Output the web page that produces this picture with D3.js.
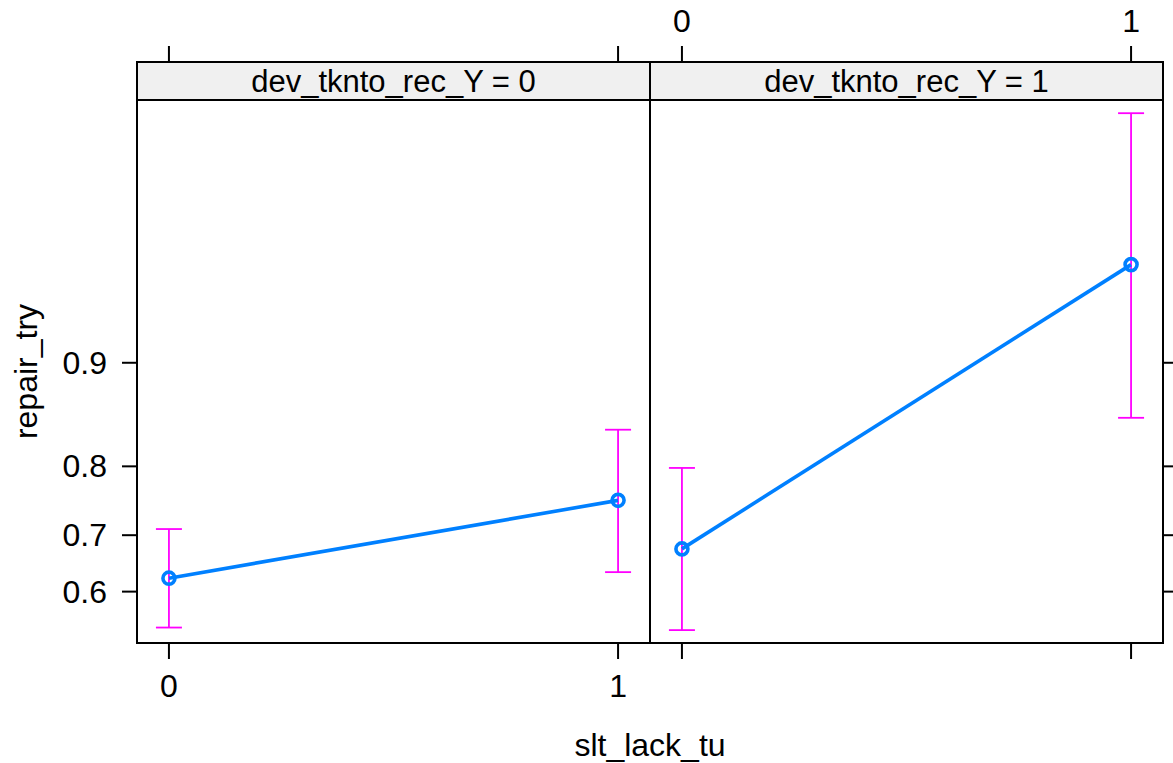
<!DOCTYPE html>
<html>
<head>
<meta charset="utf-8">
<script src="https://cdn.jsdelivr.net/npm/d3@7"></script>
<style>
  body { margin: 0; background: #fff; }
  text { font-family: "Liberation Sans", Arial, sans-serif; fill: #000; }
</style>
</head>
<body>
<div id="chart"></div>
<script>
// effect of slt_lack_tu by dev_tknto_rec_Y (probabilities, logit scale)
var panels = ["dev_tknto_rec_Y = 0", "dev_tknto_rec_Y = 1"];
var xLevels = [0, 1];
var fitVals = [[0.625, 0.754], [0.677, 0.951]];
var lowerVals = [[0.531, 0.636], [0.526, 0.854]];
var upperVals = [[0.710, 0.842], [0.798, 0.9845]];
var yTicks = [0.6, 0.7, 0.8, 0.9];

var W = 1173, H = 763;
var padL = 137, padR = 1163, stripTop = 62, stripH = 38, padB = 643;
var panelW = (padR - padL) / panels.length;
var fs = "32px";

var logit = function (p) { return Math.log(p / (1 - p)); };

var svg = d3.select("#chart").append("svg")
    .attr("width", W)
    .attr("height", H);

var yLin = d3.scaleLinear()
    .domain([logit(0.5008), logit(0.9860)])
    .range([padB, stripTop + stripH]);
var y = function (p) { return yLin(logit(p)); };

var blue = "#0080ff", magenta = "#ff00ff";

panels.forEach(function (name, i) {
    var x0 = padL + i * panelW;
    var x = d3.scaleLinear()
        .domain([-0.0711, 1.0711])
        .range([x0, x0 + panelW]);

    var g = svg.append("g");

    // strip
    g.append("rect")
        .attr("x", x0).attr("y", stripTop)
        .attr("width", panelW).attr("height", stripH)
        .attr("fill", "#f0f0f0").attr("stroke", "#000").attr("stroke-width", 2);
    g.append("text")
        .attr("x", x0 + panelW / 2).attr("y", stripTop + stripH / 2 + 11)
        .attr("text-anchor", "middle")
        .style("font-size", "31px")
        .text(name);

    // panel box
    g.append("rect")
        .attr("x", x0).attr("y", stripTop + stripH)
        .attr("width", panelW).attr("height", padB - stripTop - stripH)
        .attr("fill", "none").attr("stroke", "#000").attr("stroke-width", 2);

    // bottom / top tick marks
    xLevels.forEach(function (v) {
        g.append("line")
            .attr("x1", x(v)).attr("x2", x(v))
            .attr("y1", padB).attr("y2", padB + 16)
            .attr("stroke", "#000").attr("stroke-width", 2);
        g.append("line")
            .attr("x1", x(v)).attr("x2", x(v))
            .attr("y1", stripTop).attr("y2", stripTop - 16)
            .attr("stroke", "#000").attr("stroke-width", 2);
        if (i === 0) {
            g.append("text")
                .attr("x", x(v)).attr("y", padB + 54)
                .attr("text-anchor", "middle")
                .style("font-size", fs)
                .text(v);
        } else {
            g.append("text")
                .attr("x", x(v)).attr("y", stripTop - 30)
                .attr("text-anchor", "middle")
                .style("font-size", fs)
                .text(v);
        }
    });

    // y ticks
    yTicks.forEach(function (t) {
        if (i === 0) {
            g.append("line")
                .attr("x1", x0).attr("x2", x0 - 15)
                .attr("y1", y(t)).attr("y2", y(t))
                .attr("stroke", "#000").attr("stroke-width", 2);
            g.append("text")
                .attr("x", x0 - 30).attr("y", y(t) + 11)
                .attr("text-anchor", "end")
                .style("font-size", fs)
                .text(t);
        } else {
            g.append("line")
                .attr("x1", x0 + panelW).attr("x2", x0 + panelW + 15)
                .attr("y1", y(t)).attr("y2", y(t))
                .attr("stroke", "#000").attr("stroke-width", 2);
        }
    });

    // error bars
    xLevels.forEach(function (v, j) {
        var cx = x(v);
        g.append("line")
            .attr("x1", cx).attr("x2", cx)
            .attr("y1", y(lowerVals[i][j])).attr("y2", y(upperVals[i][j]))
            .attr("stroke", magenta).attr("stroke-width", 1.8);
        [lowerVals[i][j], upperVals[i][j]].forEach(function (b) {
            g.append("line")
                .attr("x1", cx - 13).attr("x2", cx + 13)
                .attr("y1", y(b)).attr("y2", y(b))
                .attr("stroke", magenta).attr("stroke-width", 1.8);
        });
    });

    // fitted line + points
    var line = d3.line()
        .x(function (d, j) { return x(xLevels[j]); })
        .y(function (d) { return y(d); });
    g.append("path")
        .datum(fitVals[i])
        .attr("d", line)
        .attr("fill", "none").attr("stroke", blue).attr("stroke-width", 3.6);
    g.selectAll("circle")
        .data(fitVals[i])
        .enter().append("circle")
        .attr("cx", function (d, j) { return x(xLevels[j]); })
        .attr("cy", function (d) { return y(d); })
        .attr("r", 6)
        .attr("fill", "none").attr("stroke", blue).attr("stroke-width", 3.6);
});

// axis titles
svg.append("text")
    .attr("x", (padL + padR) / 2).attr("y", 756)
    .attr("text-anchor", "middle")
    .style("font-size", fs)
    .text("slt_lack_tu");
svg.append("text")
    .attr("transform", "translate(37," + ((stripTop + stripH + padB) / 2) + ") rotate(-90)")
    .attr("text-anchor", "middle")
    .style("font-size", fs)
    .text("repair_try");
</script>
</body>
</html>
